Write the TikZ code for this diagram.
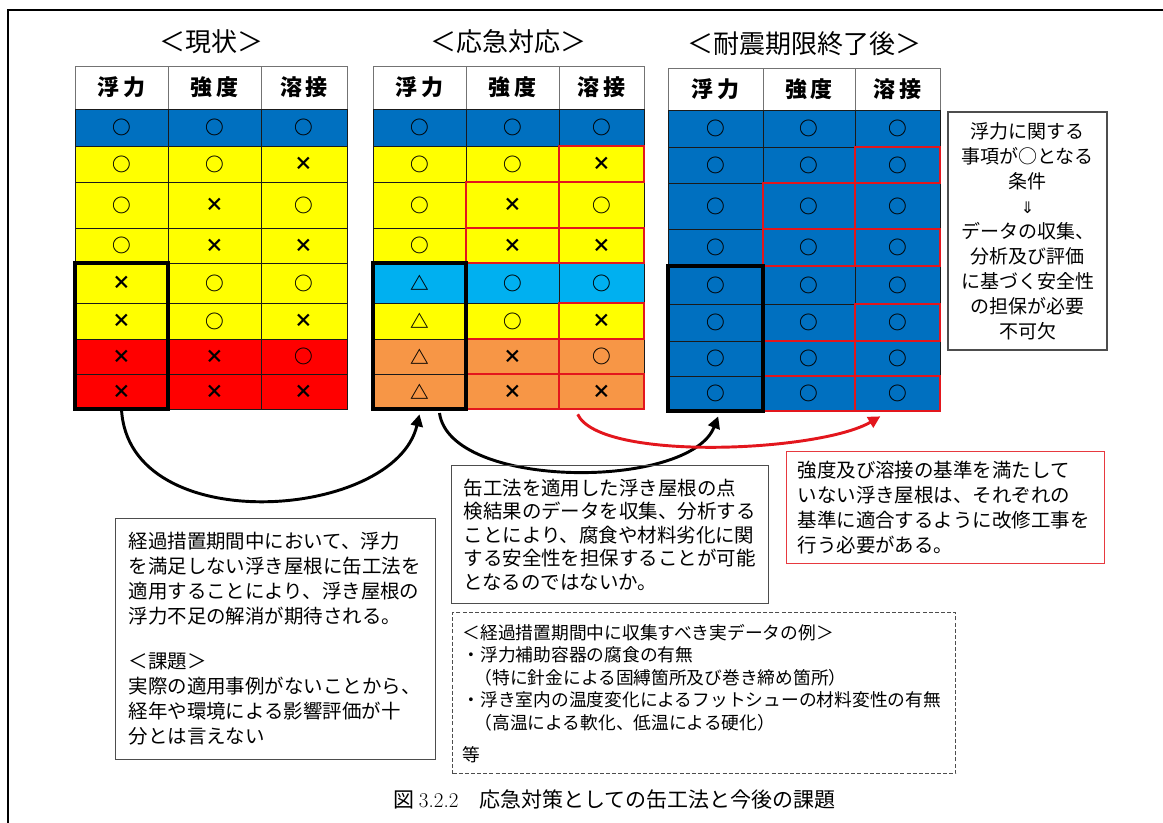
\documentclass[tikz,border=0pt]{standalone}
\usepackage{fontspec}
\newfontfamily\jp{Noto Sans CJK JP}
\newfontfamily\dv{DejaVu Sans}
\usetikzlibrary{arrows.meta}
\definecolor{cblue}{HTML}{0070C0}
\definecolor{cyel}{HTML}{FFFF00}
\definecolor{cred}{HTML}{FF0000}
\definecolor{clblue}{HTML}{00B0F0}
\definecolor{corange}{HTML}{F79646}
\definecolor{redline}{HTML}{E3161D}
\definecolor{gridline}{HTML}{1A1A1A}
\definecolor{boxline}{HTML}{4D4D4D}
\newcommand\mkcell[8][cellbox]{%
  \pgfmathsetmacro\cw{(#5-#3)*0.75}%
  \pgfmathsetmacro\ch{(#6-#4)*0.75}%
  \node[#1,fill=#7,minimum width=\cw pt,minimum height=\ch pt] (#2) at ({(#3+#5)/2},{(#4+#6)/2}) {#8};}
\tikzset{
  cellbox/.style={draw=gridline,line width=0.7pt,inner sep=0pt,outer sep=0pt,font=\jp\bfseries\fontsize{14pt}{14pt}\selectfont},
  headbox/.style={cellbox,draw=gray!90!black,font=\jp\bfseries\fontsize{16.5pt}{16.5pt}\selectfont},
  titletext/.style={inner sep=0pt,font=\jp\fontsize{19.5pt}{19.5pt}\selectfont},
  redcell/.style={draw=redline,line width=1.5pt},
  thickbox/.style={draw=black,line width=2.7pt},
  textbox/.style={draw=boxline,line width=0.9pt,inner ysep=0pt,align=left,anchor=north west},
  flowarrow/.style={line width=2.2pt,-{Triangle[length=9pt,width=9pt]}},
}
\begin{document}
\begin{tikzpicture}[x=0.75pt,y=-0.75pt]
\useasboundingbox (0,0) rectangle (1163,823);
\draw[line width=1.5pt] (8,823) -- (8,10) -- (1163,10);

% titles
\node[titletext] (ttl1) at (211,42) {＜現状＞};
\node[titletext] (ttl2) at (508,42) {＜応急対応＞};
\node[titletext] (ttl3) at (804,44) {＜耐震期限終了後＞};

% headers
\mkcell[headbox]{t1h1}{75}{66}{168}{109}{white}{浮\hspace{3pt}力}
\mkcell[headbox]{t1h2}{168}{66}{261}{109}{white}{強\hspace{3pt}度}
\mkcell[headbox]{t1h3}{261}{66}{347}{109}{white}{溶\hspace{3pt}接}
\mkcell[headbox]{t2h1}{373}{66}{466}{109}{white}{浮\hspace{3pt}力}
\mkcell[headbox]{t2h2}{466}{66}{559}{109}{white}{強\hspace{3pt}度}
\mkcell[headbox]{t2h3}{559}{66}{644}{109}{white}{溶\hspace{3pt}接}
\mkcell[headbox]{t3h1}{668}{68}{763}{110}{white}{浮\hspace{3pt}力}
\mkcell[headbox]{t3h2}{763}{68}{855}{110}{white}{強\hspace{3pt}度}
\mkcell[headbox]{t3h3}{855}{68}{940}{110}{white}{溶\hspace{3pt}接}

% table 1
\foreach \r/\ya/\yb/\f/\a/\b/\c in {1/109/146/cblue/○/○/○,2/146/182/cyel/○/○/×,3/182/228/cyel/○/×/○,4/228/263/cyel/○/×/×,5/263/303/cyel/×/○/○,6/303/339/cyel/×/○/×,7/339/374/cred/×/×/○,8/374/409/cred/×/×/×}{
  \mkcell{t1-\r-1}{75}{\ya}{168}{\yb}{\f}{\a}
  \mkcell{t1-\r-2}{168}{\ya}{261}{\yb}{\f}{\b}
  \mkcell{t1-\r-3}{261}{\ya}{347}{\yb}{\f}{\c}
}
% table 2
\foreach \r/\ya/\yb/\f/\a/\b/\c in {1/109/146/cblue/○/○/○,2/146/182/cyel/○/○/×,3/182/228/cyel/○/×/○,4/228/263/cyel/○/×/×,5/263/303/clblue/△/○/○,6/303/339/cyel/△/○/×,7/339/374/corange/△/×/○,8/374/409/corange/△/×/×}{
  \mkcell{t2-\r-1}{373}{\ya}{466}{\yb}{\f}{\a}
  \mkcell{t2-\r-2}{466}{\ya}{559}{\yb}{\f}{\b}
  \mkcell{t2-\r-3}{559}{\ya}{644}{\yb}{\f}{\c}
}
% table 3
\foreach \r/\ya/\yb in {1/110/147,2/147/183,3/183/229,4/229/266,5/266/304,6/304/341,7/341/376,8/376/411}{
  \mkcell{t3-\r-1}{668}{\ya}{763}{\yb}{cblue}{○}
  \mkcell{t3-\r-2}{763}{\ya}{855}{\yb}{cblue}{○}
  \mkcell{t3-\r-3}{855}{\ya}{940}{\yb}{cblue}{○}
}
% red frames
\foreach \t in {2,3}{
  \foreach \r/\c in {2/3,3/2,4/2,4/3,6/3,7/2,8/2,8/3}{
    \draw[redcell] (t\t-\r-\c.north west) rectangle (t\t-\r-\c.south east);
  }
  }
% thick boxes
\foreach \t in {1,2,3}{
  \draw[thickbox] (t\t-5-1.north west) rectangle (t\t-8-1.south east);
}

% arrows
\draw[flowarrow] (t1-8-1.south) .. controls (128,540) and (395,520) .. ([yshift=-4pt]t2-8-1.south);
\draw[flowarrow] ([xshift=15pt,yshift=-3pt]t2-8-1.south) .. controls (450,490) and (690,490) .. ([xshift=2pt,yshift=-4pt]t3-8-1.south);
\draw[flowarrow,draw=redline,color=redline] ([xshift=14pt,yshift=-4pt]t2-8-3.south west) .. controls (600,462) and (820,452) .. ([xshift=19pt,yshift=-4pt]t3-8-3.south west);

% condition box
\node[draw=boxline,line width=0.9pt,inner xsep=3.4pt,inner ysep=0pt,text width=112.5pt,minimum height=178.5pt,align=center,font=\jp\fontsize{14.25pt}{18.75pt}\selectfont] (cond) at (1027.5,231) {浮力に関する\\事項が○となる\\条件\\{\dv\fontsize{12pt}{12pt}\selectfont ⇓}\\データの収集、\\分析及び評価\\に基づく安全性\\の担保が必要\\不可欠};

% left box
\node[textbox,text width=220.5pt,inner xsep=9.75pt,minimum height=180.75pt,font=\jp\fontsize{14.6pt}{18.75pt}\selectfont] (keika) at (115,518) {経過措置期間中において、浮力\\を満足しない浮き屋根に缶工法を\\適用することにより、浮き屋根の\\浮力不足の解消が期待される。\\[15pt]＜課題＞\\実際の適用事例がないことから、\\経年や環境による影響評価が十\\分とは言えない};

% middle box
\node[textbox,text width=219.75pt,inner xsep=9pt,minimum height=103.5pt,font=\jp\fontsize{14.6pt}{17.6pt}\selectfont] (kan) at (451,465) {缶工法を適用した浮き屋根の点\\検結果のデータを収集、分析する\\ことにより、腐食や材料劣化に関\\する安全性を担保することが可能\\となるのではないか。};

% red box
\node[textbox,draw=redline!85,text width=222pt,inner xsep=8.25pt,minimum height=84pt,font=\jp\fontsize{14.6pt}{18.75pt}\selectfont] (kijun) at (786,451) {強度及び溶接の基準を満たして\\いない浮き屋根は、それぞれの\\基準に適合するように改修工事を\\行う必要がある。};

% dashed box
\node[textbox,dash pattern=on 3pt off 1.6pt,line width=1pt,text width=362.25pt,inner xsep=7.5pt,minimum height=120.75pt,font=\jp\fontsize{13.3pt}{16.9pt}\selectfont] (rei) at (452,612) {＜経過措置期間中に収集すべき実データの例＞\\・浮力補助容器の腐食の有無\\\hspace{9pt}（特に針金による固縛箇所及び巻き締め箇所）\\・浮き室内の温度変化によるフットシューの材料変性の有無\\\hspace{9pt}（高温による軟化、低温による硬化）\\[7pt]等};

% caption
\node[anchor=west,inner sep=0pt,font=\jp\fontsize{15.75pt}{15.75pt}\selectfont] (cap) at (393,800) {図 {\rmfamily 3.2.2}\hspace{1em}応急対策としての缶工法と今後の課題};
\end{tikzpicture}
\end{document}
